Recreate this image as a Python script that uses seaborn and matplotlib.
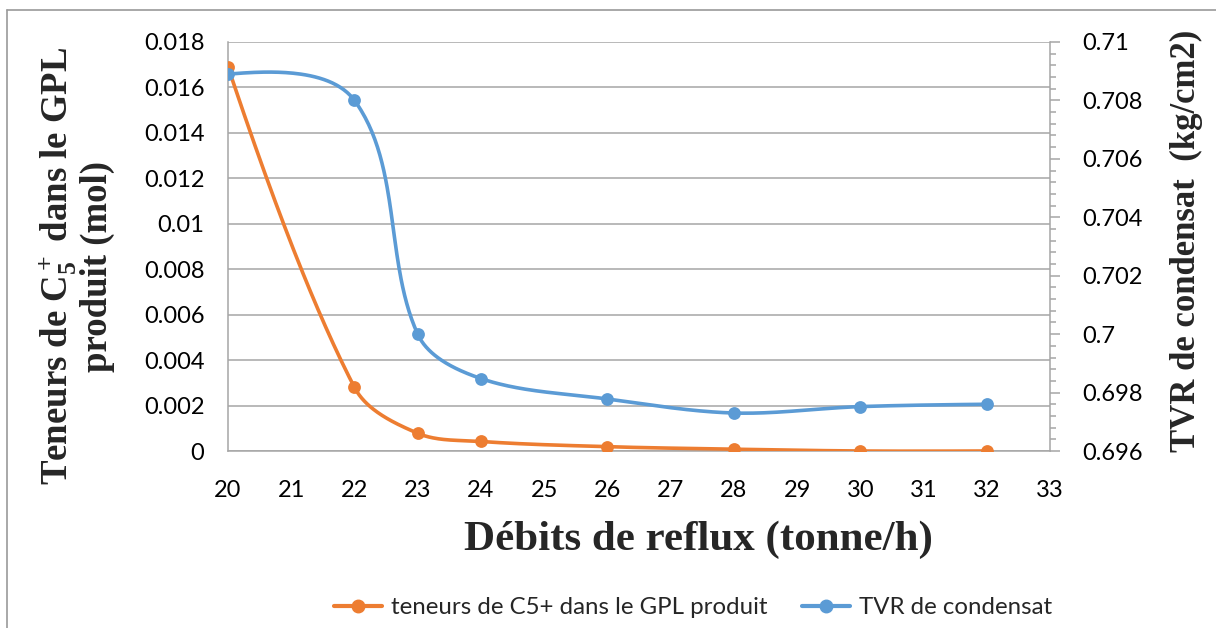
import numpy as np
import pandas as pd
import matplotlib
matplotlib.use("Agg")
import matplotlib.pyplot as plt
from matplotlib.lines import Line2D
from matplotlib.ticker import FixedLocator, MultipleLocator, FuncFormatter
import seaborn as sns

# Reflux flow rates (tonne/h)
reflux = [20, 22, 23, 24, 26, 28, 30, 32]
# C5+ content in the LPG product (mol)
c5_content = [0.0169, 0.0028, 0.00078, 0.00042, 0.00019, 0.00008, 0.0, 0.0]
# Condensate RVP (kg/cm2)
tvr = [0.7089, 0.7080, 0.7000, 0.69848, 0.69778, 0.69730, 0.69752, 0.69760]

x_ticks = list(range(20, 34))
left_ticks = [0, 0.002, 0.004, 0.006, 0.008, 0.01, 0.012, 0.014, 0.016, 0.018]
right_ticks = [0.696, 0.698, 0.7, 0.702, 0.704, 0.706, 0.708, 0.71]

orange = "#ED7D31"
blue = "#5B9BD5"
grid_gray = "#A6A6A6"

sns.set_style("white")
plt.rcParams["font.family"] = ["Lato", "DejaVu Sans"]
plt.rcParams["mathtext.fontset"] = "custom"
plt.rcParams["mathtext.rm"] = "Liberation Serif:bold"
plt.rcParams["mathtext.it"] = "Liberation Serif:bold"
plt.rcParams["mathtext.bf"] = "Liberation Serif:bold"


def smooth_curve(axis, xs, ys, k=0.33, n=60):
    """Bezier smoothing through every point, computed in screen space.

    Interior points get a tangent parallel to the chord joining their
    neighbours, with control arms scaled by the adjacent segment length.
    End segments aim their free control point at the inner one.
    """
    pts = axis.transData.transform(np.column_stack([xs, ys]).astype(float))
    m = len(pts)
    tang = np.zeros_like(pts)
    for i in range(1, m - 1):
        d = pts[i + 1] - pts[i - 1]
        tang[i] = d / np.hypot(*d)
    t = np.linspace(0, 1, n)[:, None]
    out = []
    for i in range(m - 1):
        p1, p2 = pts[i], pts[i + 1]
        seg_len = np.hypot(*(p2 - p1))
        c1 = p1 + tang[i] * seg_len * k if i > 0 else None
        c2 = p2 - tang[i + 1] * seg_len * k if i + 1 < m - 1 else None
        if c1 is None and c2 is None:
            c1 = p1 + (p2 - p1) / 3.0
            c2 = p2 - (p2 - p1) / 3.0
        elif c1 is None:
            c1 = p1 + (c2 - p1) / 3.0
        elif c2 is None:
            c2 = p2 + (c1 - p2) / 3.0
        seg = ((1 - t) ** 3) * p1 + 3 * ((1 - t) ** 2) * t * c1 + 3 * (1 - t) * t ** 2 * c2 + t ** 3 * p2
        out.append(seg if i == 0 else seg[1:])
    arr = axis.transData.inverted().transform(np.vstack(out))
    return pd.DataFrame({"x": arr[:, 0], "y": arr[:, 1]})


df_c5 = pd.DataFrame({"x": reflux, "y": c5_content})
df_tvr = pd.DataFrame({"x": reflux, "y": tvr})

fig = plt.figure(figsize=(12.16, 6.28), dpi=100)
ax = fig.add_axes([228 / 1216, 1 - 451 / 628, (1050 - 228) / 1216, (451 - 42) / 628])
ax2 = ax.twinx()

ax.set_xlim(20, 33)
ax.set_ylim(0, 0.018)
ax2.set_xlim(20, 33)
ax2.set_ylim(0.696, 0.71)

# left axis series
sns.lineplot(data=smooth_curve(ax, reflux, c5_content), x="x", y="y", ax=ax, color=orange,
             lw=2.6, sort=False, estimator=None, zorder=3)
sns.scatterplot(data=df_c5, x="x", y="y", ax=ax, color=orange, s=85, edgecolor=orange,
                linewidth=0, zorder=4)

# right axis series
sns.lineplot(data=smooth_curve(ax2, reflux, tvr), x="x", y="y", ax=ax2, color=blue,
             lw=2.6, sort=False, estimator=None, zorder=3)
sns.scatterplot(data=df_tvr, x="x", y="y", ax=ax2, color=blue, s=85, edgecolor=blue,
                linewidth=0, zorder=4)

ax.set_xlim(20, 33)
ax.set_ylim(0, 0.018)
ax2.set_ylim(0.696, 0.71)


def general_fmt(v, _pos=None):
    s = f"{v:.3f}".rstrip("0").rstrip(".")
    return s


ax.xaxis.set_major_locator(FixedLocator(x_ticks))
ax.yaxis.set_major_locator(FixedLocator(left_ticks))
ax.yaxis.set_major_formatter(FuncFormatter(general_fmt))
ax2.yaxis.set_major_locator(FixedLocator(right_ticks))
ax2.yaxis.set_minor_locator(MultipleLocator(0.0004))
ax2.yaxis.set_major_formatter(FuncFormatter(general_fmt))

ax.yaxis.grid(True, color=grid_gray, lw=1.1)
ax.xaxis.grid(False)
ax2.grid(False)
ax.set_axisbelow(True)

for a in (ax, ax2):
    for sp in a.spines.values():
        sp.set_visible(False)
ax.spines["left"].set_visible(True)
ax.spines["left"].set_color(grid_gray)
ax.spines["left"].set_linewidth(1.1)
ax.spines["bottom"].set_visible(True)
ax.spines["bottom"].set_color(grid_gray)
ax.spines["bottom"].set_linewidth(1.1)
ax2.spines["right"].set_visible(True)
ax2.spines["right"].set_color(grid_gray)
ax2.spines["right"].set_linewidth(1.1)

ax.tick_params(axis="both", which="both", length=0, labelsize=17, colors="black")
ax.tick_params(axis="y", pad=17)
ax.tick_params(axis="x", pad=21)
ax2.tick_params(axis="y", which="major", length=7, width=1.1, color=grid_gray,
                labelsize=17, labelcolor="black", pad=16)
ax2.tick_params(axis="y", which="minor", length=4, width=1.1, color=grid_gray)

ax.set_xlabel("")
ax.set_ylabel("")
ax2.set_ylabel("")

# axis titles
fig.text(76 / 1216, 1 - 266 / 628, "Teneurs de C$_5^+$ dans le GPL\nproduit (mol)",
         rotation=90, ha="center", va="center", multialignment="center",
         fontsize=26.5, fontweight="bold", family="Liberation Serif", linespacing=1.05)
fig.text(1186 / 1216, 1 - 241 / 628, "TVR de condensat  (kg/cm2)", rotation=90,
         ha="center", va="center", fontsize=25, fontweight="bold", family="Liberation Serif")
fig.text(698 / 1216, 1 - 540 / 628, "Débits de reflux (tonne/h)", ha="center", va="center",
         fontsize=31, fontweight="bold", family="Liberation Serif")

# legend
handles = [
    Line2D([], [], color=orange, lw=3, marker="o", markersize=9),
    Line2D([], [], color=blue, lw=3, marker="o", markersize=9),
]
labels = ["teneurs de C5+ dans le GPL produit", "TVR de condensat"]
fig.legend(handles, labels, loc="center", bbox_to_anchor=(693 / 1216, 1 - 608 / 628),
           ncol=2, frameon=False, fontsize=17.3, handlelength=2.0, handletextpad=0.4,
           columnspacing=1.4)

# chart frame
fig.add_artist(Line2D([7 / 1216, 7 / 1216], [0, 1 - 10 / 628], color="#9A9A9A", lw=1.2))
fig.add_artist(Line2D([7 / 1216, 1], [1 - 10 / 628, 1 - 10 / 628], color="#9A9A9A", lw=1.2))

fig.savefig("out.png", dpi=100, facecolor="white")
